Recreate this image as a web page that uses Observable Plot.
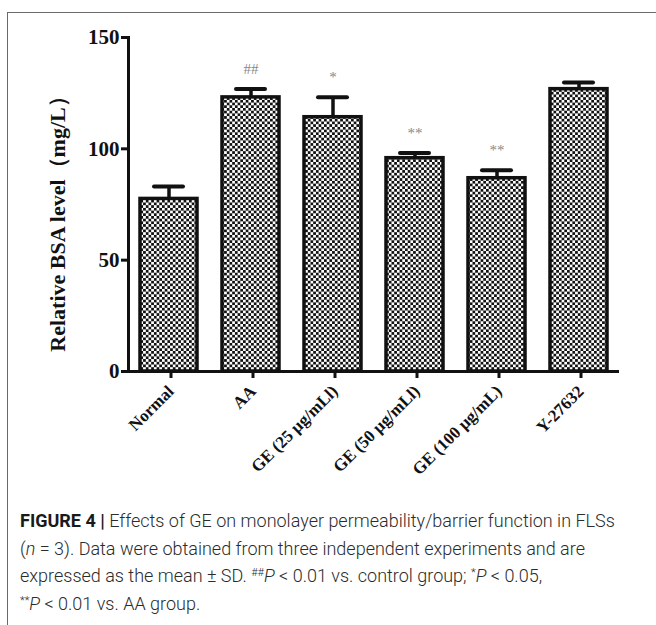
<!DOCTYPE html>
<html>
<head>
<meta charset="utf-8">
<script src="https://cdn.jsdelivr.net/npm/d3@7"></script>
<script src="https://cdn.jsdelivr.net/npm/@observablehq/plot@0.6"></script>
<style>
  html, body { margin: 0; padding: 0; background: #fff; width: 656px; height: 625px; overflow: hidden; }
  #frame { position: absolute; left: 7px; top: 12px; width: 720px; height: 700px;
           border-left: 1.5px solid #6a6a6a; border-top: 1.5px solid #6a6a6a; }
  #chart { position: absolute; left: 0; top: 0; }
  #caption { position: absolute; left: 20px; top: 507px; font-family: Roboto, "Liberation Sans", Arial, sans-serif;
             font-weight: 300; font-size: 18px; line-height: 27.6px; color: #2b2b2b; white-space: nowrap; }
  #caption b { font-weight: 700; color: #1a1a1a; }
  #caption sup { font-size: 11px; line-height: 0; vertical-align: 6px; }
</style>
</head>
<body>
<div id="frame"></div>
<div id="chart"></div>
<div id="caption">
<b>FIGURE 4 |</b> Effects of GE on monolayer permeability/barrier function in FLSs<br>
(<i>n</i> = 3). Data were obtained from three independent experiments and are<br>
expressed as the mean ± SD. <sup>##</sup><i>P</i> &lt; 0.01 vs. control group; <sup>*</sup><i>P</i> &lt; 0.05,<br>
<sup>**</sup><i>P</i> &lt; 0.01 vs. AA group.
</div>
<script>
const groups = ["Normal", "AA", "GE (25 μg/mLl)", "GE (50 μg/mLl)", "GE (100 μg/mL)", "Y-27632"];
const means = [77.5, 123.1, 114.2, 95.8, 86.8, 126.8];
const sds = [5.6, 3.8, 9.0, 2.3, 3.6, 3.0];
const signif = ["", "##", "*", "**", "**", ""];
const yTicks = [0, 50, 100, 150];
const yLabel = "Relative BSA level（mg/L）";

const data = groups.map((g, i) => ({group: g, mean: means[i], sd: sds[i], sig: signif[i]}));

const defs = () => {
  const d = d3.create("svg:defs");
  const p = d.append("pattern").attr("id", "checker").attr("patternUnits", "userSpaceOnUse")
    .attr("width", 5.4).attr("height", 5.4);
  p.append("rect").attr("width", 5.4).attr("height", 5.4).attr("fill", "#fff");
  p.append("rect").attr("x", 0).attr("y", 0).attr("width", 2.7).attr("height", 2.7).attr("fill", "#111");
  p.append("rect").attr("x", 2.7).attr("y", 2.7).attr("width", 2.7).attr("height", 2.7).attr("fill", "#111");
  return d.node();
};

const chart = Plot.plot({
  width: 656,
  height: 490,
  marginTop: 37,
  marginBottom: 119,
  marginLeft: 128,
  marginRight: 37,
  style: {fontFamily: "'Liberation Serif', 'Times New Roman', serif", fontWeight: "bold", color: "#111", background: "transparent"},
  x: {domain: groups, paddingInner: 0.3, paddingOuter: 0.11, label: null},
  y: {domain: [0, 150], label: null},
  marks: [
    defs,
    Plot.barY(data, {x: "group", y: "mean", fill: "url(#checker)", stroke: "#111", strokeWidth: 3.5}),
    Plot.ruleX(data, {x: "group", y1: "mean", y2: d => d.mean + d.sd, stroke: "#111", strokeWidth: 3.5}),
    Plot.tickY(data, {x: "group", y: d => d.mean + d.sd, stroke: "#111", strokeWidth: 4, insetLeft: 14, insetRight: 14, strokeLinecap: "round"}),
    Plot.text(data.filter(d => d.sig), {x: "group", y: d => d.mean + d.sd, text: "sig", dy: -20, fill: "#888", fontSize: 15, fontWeight: "normal"}),
    Plot.ruleY([0], {stroke: "#111", strokeWidth: 3}),
    Plot.frame({anchor: "left", stroke: "#111", strokeWidth: 3}),
    Plot.axisY({ticks: yTicks, tickSize: 7, tickPadding: 2, strokeWidth: 3, fontSize: 21, fontWeight: "bold", label: null}),
    Plot.text([yLabel], {frameAnchor: "left", textAnchor: "middle", rotate: -90, dx: -71, dy: 14, text: d => d, fontSize: 22, fontWeight: "bold", fill: "#111"}),
    Plot.axisX({tickRotate: -45, tickSize: 7, tickPadding: 10, dx: 2, strokeWidth: 3, fontSize: 17, fontWeight: "bold", label: null})
  ]
});
document.getElementById("chart").appendChild(chart);
</script>
</body>
</html>
